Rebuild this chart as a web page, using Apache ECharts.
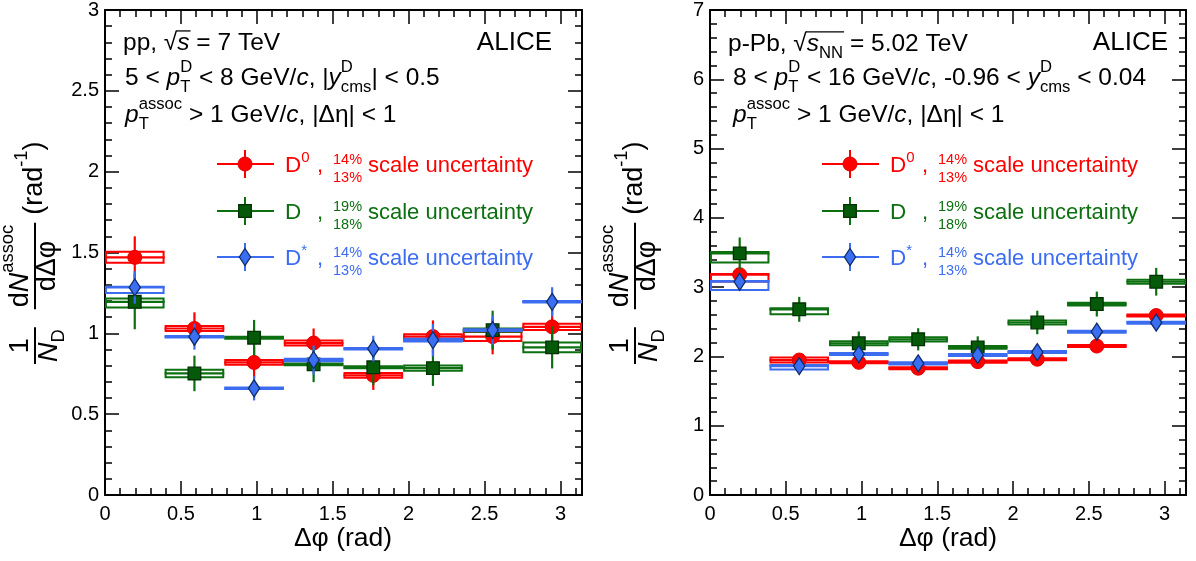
<!DOCTYPE html>
<html><head><meta charset="utf-8">
<script src="https://cdn.jsdelivr.net/npm/echarts@6/dist/echarts.min.js"></script>
<style>html,body{margin:0;padding:0;background:#fff}#c{width:1196px;height:561px}</style>
</head><body><div id="c"></div>
<script>
const FAM = 'Liberation Sans';
// ---- data ----
const binCenters = [0.196, 0.589, 0.982, 1.374, 1.767, 2.160, 2.553, 2.945];
const binHalfWidth = Math.PI / 16;

// pp, D0
const ppD0      = [1.47, 1.03, 0.82, 0.94, 0.74, 0.98, 0.98, 1.04];
const ppD0Stat  = [0.13, 0.10, 0.097, 0.09, 0.09, 0.10, 0.11, 0.11];
const ppD0SysLo = [0.034, 0.015, 0.015, 0.016, 0.015, 0.015, 0.028, 0.02];
const ppD0SysHi = [0.034, 0.015, 0.015, 0.016, 0.015, 0.015, 0.028, 0.02];
// pp, D+
const ppDp      = [1.195, 0.752, 0.973, 0.808, 0.79, 0.785, 1.02, 0.913];
const ppDpStat  = [0.17, 0.11, 0.11, 0.11, 0.11, 0.11, 0.12, 0.13];
const ppDpSysLo = [0.035, 0.023, 0.006, 0.006, 0.006, 0.016, 0.01, 0.03];
const ppDpSysHi = [0.02, 0.023, 0.006, 0.006, 0.006, 0.016, 0.01, 0.03];
// pp, D*
const ppDs      = [1.284, 0.979, 0.66, 0.835, 0.905, 0.958, 1.02, 1.195];
const ppDsStat  = [0.10, 0.08, 0.075, 0.09, 0.08, 0.10, 0.09, 0.09];
const ppDsSysLo = [0.034, 0.005, 0.005, 0.008, 0.005, 0.008, 0.005, 0.005];
const ppDsSysHi = [0.004, 0.005, 0.005, 0.008, 0.005, 0.008, 0.005, 0.005];

// p-Pb, D0
const pPbD0      = [3.18, 1.948, 1.915, 1.83, 1.925, 1.96, 2.15, 2.59];
const pPbD0Stat  = [0.10, 0.07, 0.07, 0.07, 0.07, 0.07, 0.09, 0.09];
const pPbD0SysLo = [0.10, 0.035, 0.015, 0.015, 0.015, 0.015, 0.015, 0.015];
const pPbD0SysHi = [0.01, 0.035, 0.015, 0.015, 0.015, 0.015, 0.015, 0.015];
// p-Pb, D+
const pPbDp      = [3.487, 2.68, 2.19, 2.247, 2.13, 2.49, 2.756, 3.078];
const pPbDpStat  = [0.23, 0.18, 0.17, 0.16, 0.16, 0.17, 0.18, 0.20];
const pPbDpSysLo = [0.13, 0.07, 0.03, 0.03, 0.02, 0.03, 0.02, 0.03];
const pPbDpSysHi = [0.02, 0.015, 0.03, 0.03, 0.02, 0.03, 0.02, 0.03];
// p-Pb, D*
const pPbDs      = [3.078, 1.861, 2.034, 1.90, 2.02, 2.063, 2.357, 2.487];
const pPbDsStat  = [0.12, 0.10, 0.09, 0.09, 0.09, 0.09, 0.10, 0.10];
const pPbDsSysLo = [0.12, 0.05, 0.015, 0.015, 0.015, 0.015, 0.015, 0.015];
const pPbDsSysHi = [0.01, 0.015, 0.015, 0.015, 0.015, 0.015, 0.015, 0.015];

const RED = '#ff0000', GREEN = '#0c6f10', BLUE = '#3c6cf0';

// ---- text helpers ----
const mctx = document.createElement('canvas').getContext('2d');
function tw(t, size, it) { mctx.font = (it ? 'italic ' : '') + size + 'px "' + FAM + '"'; return mctx.measureText(t).width; }
function T(x, base, text, size, it, color, extra) {
  return Object.assign({ type: 'text', x: x, y: base - size * 0.35, silent: true, z: 10,
    style: { text: text, fontSize: size, fontFamily: FAM, fontStyle: it ? 'italic' : 'normal', fill: color, align: 'left', verticalAlign: 'middle' } }, extra || {});
}
function rich(x, base, segs, color, size, align) {
  const ss = size * 0.68;
  const items = []; let cx = 0, ovS = null, ovE = null;
  for (const s of segs) {
    let w = 0;
    if (s.t !== undefined) {
      w = tw(s.t, size, s.i);
      items.push({ x: cx, b: 0, t: s.t, sz: size, i: s.i });
    } else {
      if (s.sup !== undefined) { items.push({ x: cx, b: -size * 0.58, t: s.sup, sz: ss, i: false }); w = Math.max(w, tw(s.sup, ss)); }
      if (s.sub !== undefined) { items.push({ x: cx, b: size * 0.25, t: s.sub, sz: ss, i: false }); w = Math.max(w, tw(s.sub, ss)); }
    }
    if (s.ov) { if (ovS === null) ovS = cx; ovE = cx + w; }
    cx += w + (s.gap || 0);
  }
  const off = align === 'right' ? -cx : align === 'center' ? -cx / 2 : 0;
  const els = items.map(it => T(x + off + it.x, base + it.b, it.t, it.sz, it.i, color));
  if (ovS !== null) els.push({ type: 'line', silent: true, z: 10, shape: { x1: x + off + ovS - 1, y1: base - size * 0.86, x2: x + off + ovE + 1, y2: base - size * 0.86 }, style: { stroke: color, lineWidth: 1.3 } });
  return { els: els, width: cx };
}

// ---- graphics ----
const G = [];
function add(r) { r.els.forEach(e => G.push(e)); }
const HS = 24.5;
// left headers
add(rich(123, 52, [{ t: 'pp, ' }, { t: '√' }, { t: 's', i: 1, ov: 1 }, { t: ' = 7 TeV' }], '#000', HS));
add(rich(125, 87, [{ t: '5 < ' }, { t: 'p', i: 1 }, { sup: 'D', sub: 'T' }, { t: ' < 8 GeV/' }, { t: 'c', i: 1 }, { t: ', |' }, { t: 'y', i: 1 }, { sup: 'D', sub: 'cms' }, { t: '| < 0.5' }], '#000', HS));
add(rich(125, 124, [{ t: 'p', i: 1 }, { sup: 'assoc', sub: 'T' }, { t: ' > 1 GeV/' }, { t: 'c', i: 1 }, { t: ', |Δη| < 1' }], '#000', HS));
add(rich(552, 52, [{ t: 'ALICE' }], '#000', 26, 'right'));
// right headers
add(rich(728, 53, [{ t: 'p-Pb, ' }, { t: '√' }, { t: 's', i: 1, ov: 1 }, { sub: 'NN', ov: 1 }, { t: ' = 5.02 TeV' }], '#000', HS));
add(rich(733, 87, [{ t: '8 < ' }, { t: 'p', i: 1 }, { sup: 'D', sub: 'T' }, { t: ' < 16 GeV/' }, { t: 'c', i: 1 }, { t: ', -0.96 < ' }, { t: 'y', i: 1 }, { sup: 'D', sub: 'cms' }, { t: ' < 0.04' }], '#000', HS));
add(rich(733, 124, [{ t: 'p', i: 1 }, { sup: 'assoc', sub: 'T' }, { t: ' > 1 GeV/' }, { t: 'c', i: 1 }, { t: ', |Δη| < 1' }], '#000', HS));
add(rich(1168, 52, [{ t: 'ALICE' }], '#000', 26, 'right'));

// x titles
add(rich(343, 548, [{ t: 'Δφ (rad)' }], '#000', 26.5, 'center'));
add(rich(948, 548, [{ t: 'Δφ (rad)' }], '#000', 26.5, 'center'));

// markers
function marker(kind, cx, cy) {
  if (kind === 'circle') return { type: 'circle', shape: { cx: cx, cy: cy, r: 7 }, style: { fill: RED, stroke: '#e00000', lineWidth: 1 } };
  if (kind === 'square') return { type: 'rect', shape: { x: cx - 6.3, y: cy - 6.3, width: 12.6, height: 12.6 }, style: { fill: '#045a08', stroke: '#013003', lineWidth: 1.3 } };
  return { type: 'polygon', shape: { points: [[cx, cy - 8.5], [cx + 5.6, cy], [cx, cy + 8.5], [cx - 5.6, cy]] }, style: { fill: '#3a6ff2', stroke: '#102c6a', lineWidth: 1.3 } };
}

// legends
function legendRow(lx, y, color, kind, supT, pTop, pBot) {
  G.push({ type: 'line', silent: true, z: 10, shape: { x1: lx, y1: y, x2: lx + 57, y2: y }, style: { stroke: color, lineWidth: 2 } });
  G.push({ type: 'line', silent: true, z: 10, shape: { x1: lx + 28, y1: y - 14, x2: lx + 28, y2: y + 14 }, style: { stroke: color, lineWidth: 2 } });
  const m = marker(kind, lx + 28, y); m.z = 11; m.silent = true; G.push(m);
  G.push(T(lx + 68, y + 10, 'D', 22.5, false, color));
  if (supT) G.push(T(lx + 68 + tw('D', 22.5), y - 1, supT, 15, false, color));
  G.push(T(lx + 100, y + 10, ',', 22, false, color));
  G.push(T(lx + 116, y + 1, pTop, 14.5, false, color));
  G.push(T(lx + 116, y + 19, pBot, 14.5, false, color));
  G.push(T(lx + 151, y + 10, 'scale uncertainty', 22, false, color));
}
[217, 822].forEach(lx => {
  legendRow(lx, 164, RED, 'circle', '0', '14%', '13%');
  legendRow(lx, 211, GREEN, 'square', '', '19%', '18%');
  legendRow(lx, 257, BLUE, 'diamond', '*', '14%', '13%');
});

// y titles (rotated)
function yTitle(ox) {
  const S = 27, kids = [];
  const f1n = rich(0, 0, [{ t: '1' }], '#000', S);
  const f1d = rich(0, 0, [{ t: 'N', i: 1 }, { sub: 'D' }], '#000', S);
  const W1 = Math.max(f1n.width, f1d.width) + 4;
  rich(W1 / 2, -5, [{ t: '1' }], '#000', S, 'center').els.forEach(e => kids.push(e));
  rich(W1 / 2, 24, [{ t: 'N', i: 1 }, { sub: 'D' }], '#000', S, 'center').els.forEach(e => kids.push(e));
  kids.push({ type: 'line', shape: { x1: 0, y1: 0, x2: W1, y2: 0 }, style: { stroke: '#000', lineWidth: 2 } });
  const x2 = W1 + 18;
  const n2 = rich(0, 0, [{ t: 'd' }, { t: 'N', i: 1 }, { sup: 'assoc' }], '#000', S);
  const d2 = rich(0, 0, [{ t: 'dΔφ' }], '#000', S);
  const W2 = Math.max(n2.width, d2.width) + 4;
  rich(x2 + W2 / 2, -5, [{ t: 'd' }, { t: 'N', i: 1 }, { sup: 'assoc' }], '#000', S, 'center').els.forEach(e => kids.push(e));
  rich(x2 + W2 / 2, 22, [{ t: 'dΔφ' }], '#000', S, 'center').els.forEach(e => kids.push(e));
  kids.push({ type: 'line', shape: { x1: x2, y1: 0, x2: x2 + W2, y2: 0 }, style: { stroke: '#000', lineWidth: 2 } });
  const x3 = x2 + W2 + 8;
  rich(x3, 9, [{ t: '(rad' }, { sup: '-1' }, { t: ')' }], '#000', S).els.forEach(e => kids.push(e));
  G.push({ type: 'group', x: ox, y: 364, rotation: Math.PI / 2, silent: true, children: kids });
}
yTitle(35);
yTitle(635);

// ---- axes ----
const fmt = v => { const r = Math.round(v * 10) / 10; return Number.isInteger(r) ? String(r) : r.toFixed(1); };
const AX = { color: '#000', width: 2 }, TK = { color: '#000', width: 1.5 };
function xAxes(g) {
  const b = { gridIndex: g, type: 'value', min: 0, max: Math.PI, splitLine: { show: false } };
  return [
    Object.assign({}, b, { position: 'bottom', interval: 0.5, axisLine: { show: true, onZero: false, lineStyle: AX }, axisTick: { inside: true, length: 14, lineStyle: TK },
      axisLabel: { fontSize: 20, fontFamily: FAM, color: '#000', margin: 9, showMaxLabel: false, formatter: fmt } }),
    Object.assign({}, b, { position: 'bottom', interval: 0.1, axisLine: { show: false, onZero: false }, axisTick: { inside: true, length: 7, lineStyle: TK }, axisLabel: { show: false } }),
    Object.assign({}, b, { position: 'top', interval: 0.5, axisLine: { show: true, onZero: false, lineStyle: AX }, axisTick: { inside: true, length: 14, lineStyle: TK }, axisLabel: { show: false } }),
    Object.assign({}, b, { position: 'top', interval: 0.1, axisLine: { show: false, onZero: false }, axisTick: { inside: true, length: 7, lineStyle: TK }, axisLabel: { show: false } })
  ];
}
function yAxes(g, max, iv) {
  const b = { gridIndex: g, type: 'value', min: 0, max: max, interval: iv, splitLine: { show: false },
    minorTick: { show: true, splitNumber: 5, length: 7, lineStyle: TK }, minorSplitLine: { show: false },
    axisTick: { inside: true, length: 14, lineStyle: TK }, axisLine: { show: true, onZero: false, lineStyle: AX } };
  return [
    Object.assign({}, b, { position: 'left', axisLabel: { fontSize: 20, fontFamily: FAM, color: '#000', margin: 6, formatter: fmt } }),
    Object.assign({}, b, { position: 'right', axisLabel: { show: false } })
  ];
}

// ---- series ----
function rows(v, st, lo, hi) { return binCenters.map((x, i) => [x, v[i], st[i], lo[i], hi[i]]); }
function mk(g, data, color, kind, z) {
  return {
    type: 'custom', xAxisIndex: g * 4, yAxisIndex: g * 2, data: data, z: z, clip: false,
    renderItem: function (params, api) {
      const x = api.value(0), y = api.value(1), st = api.value(2), lo = api.value(3), hi = api.value(4);
      const pL = api.coord([x - binHalfWidth, y]), pR = api.coord([x + binHalfWidth, y]);
      const pT = api.coord([x, y + st]), pB = api.coord([x, y - st]);
      const bT = api.coord([x, y + hi]), bB = api.coord([x, y - lo]);
      const c = api.coord([x, y]);
      return { type: 'group', children: [
        { type: 'rect', shape: { x: pL[0] + 1, y: bT[1], width: pR[0] - pL[0] - 2, height: bB[1] - bT[1] }, style: { fill: 'none', stroke: color, lineWidth: 2 } },
        { type: 'line', shape: { x1: pL[0], y1: c[1], x2: pR[0], y2: c[1] }, style: { stroke: color, lineWidth: 2.2 } },
        { type: 'line', shape: { x1: c[0], y1: pT[1], x2: c[0], y2: pB[1] }, style: { stroke: color, lineWidth: 2.2 } },
        marker(kind, c[0], c[1])
      ] };
    }
  };
}

const chart = echarts.init(document.getElementById('c'), null, { renderer: 'canvas' });
chart.setOption({
  animation: false,
  backgroundColor: '#fff',
  grid: [{ left: 105, top: 10, width: 477, height: 485 }, { left: 710, top: 10, width: 476, height: 485 }],
  xAxis: xAxes(0).concat(xAxes(1)),
  yAxis: yAxes(0, 3, 0.5).concat(yAxes(1, 7, 1)),
  series: [
    mk(0, rows(ppD0, ppD0Stat, ppD0SysLo, ppD0SysHi), RED, 'circle', 2),
    mk(0, rows(ppDp, ppDpStat, ppDpSysLo, ppDpSysHi), GREEN, 'square', 3),
    mk(0, rows(ppDs, ppDsStat, ppDsSysLo, ppDsSysHi), BLUE, 'diamond', 4),
    mk(1, rows(pPbD0, pPbD0Stat, pPbD0SysLo, pPbD0SysHi), RED, 'circle', 2),
    mk(1, rows(pPbDp, pPbDpStat, pPbDpSysLo, pPbDpSysHi), GREEN, 'square', 3),
    mk(1, rows(pPbDs, pPbDsStat, pPbDsSysLo, pPbDsSysHi), BLUE, 'diamond', 4)
  ],
  graphic: G
});
</script>
</body></html>
